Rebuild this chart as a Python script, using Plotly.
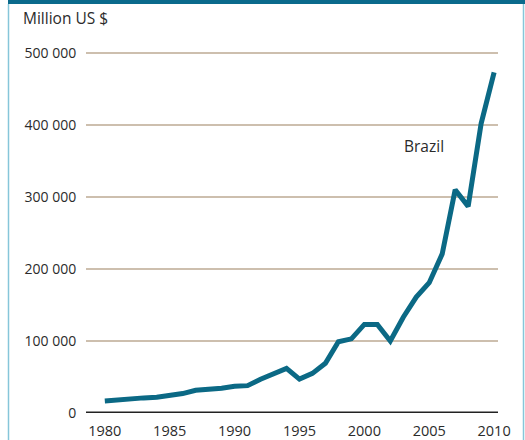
import plotly.graph_objects as go

years = list(range(1980, 2011))
values = [16700, 18500, 20000, 21000, 22000, 24500, 27000, 31500, 32500, 34500,
          37000, 38000, 47000, 55000, 62000, 47000, 55000, 69000, 99000, 103000,
          123000, 123000, 100000, 133000, 161000, 181000, 221000, 310000, 287000, 402000,
          473000]
y_ticks = [0, 100000, 200000, 300000, 400000, 500000]
y_labels = ["0", "100 000", "200 000", "300 000", "400 000", "500 000"]
x_ticks = [1980, 1985, 1990, 1995, 2000, 2005, 2010]
series_name = "Brazil"
y_title = "Million US $"

LINE = "#0b6985"
GRID = "#cdbfae"
TEXT = "#2b2b2b"
FONT = "Open Sans, Noto Sans, sans-serif"

W, H = 525, 440
ML, MR, MT, MB = 86, 27, 51, 27

fig = go.Figure()
fig.add_trace(go.Scatter(x=years, y=values, mode="lines",
                         line=dict(color=LINE, width=5, shape="linear"),
                         hoverinfo="skip", showlegend=False, cliponaxis=False))

pw = W - ML - MR
ph = H - MT - MB
def px2paper(px, py):
    return (px - ML) / pw, (H - MB - py) / ph

fig.add_annotation(x=2004.6, y=371000, text=series_name, showarrow=False,
                   font=dict(family=FONT, size=15.5, color=TEXT), xref="x", yref="y")
tx, ty = px2paper(21, 18)
fig.add_annotation(x=tx, y=ty, xref="paper", yref="paper", text=y_title,
                   xanchor="left", yanchor="middle",
                   showarrow=False, font=dict(family=FONT, size=15.5, color=TEXT))

# zero baseline
fig.add_shape(type="line", xref="paper", yref="y", x0=0, x1=1, y0=0, y1=0,
              line=dict(color="#222222", width=3))

# top bar
x0, y0 = px2paper(8, 0)
x1, y1 = px2paper(W, 4)
fig.add_shape(type="rect", xref="paper", yref="paper", x0=x0, x1=x1, y0=y1, y1=y0,
              fillcolor="#0a6a8c", line=dict(width=0), layer="above")
# left and right light blue borders
lx, _ = px2paper(8.5, 0)
rx, _ = px2paper(523.5, 0)
_, ybot = px2paper(0, H)
_, ytop = px2paper(0, 4)
for xx in (lx, rx):
    fig.add_shape(type="line", xref="paper", yref="paper", x0=xx, x1=xx, y0=ybot, y1=ytop,
                  line=dict(color="#86c6d9", width=1.5), layer="above")

fig.update_layout(
    width=W, height=H,
    margin=dict(l=ML, r=MR, t=MT, b=MB, autoexpand=False),
    paper_bgcolor="white", plot_bgcolor="white",
    hovermode=False,
    font=dict(family=FONT, size=14, color=TEXT),
    xaxis=dict(range=[1978.55, 2010.3], tickvals=x_ticks, showgrid=False,
               zeroline=False, showline=False, ticks="outside", ticklen=5,
               automargin=False, fixedrange=True,
               tickcolor="rgba(0,0,0,0)", tickfont=dict(size=14.5, color=TEXT)),
    yaxis=dict(range=[0, 502800], tickvals=y_ticks, ticktext=y_labels,
               showgrid=True, gridcolor=GRID, gridwidth=1.5, zeroline=False,
               showline=False, ticks="outside", ticklen=6,
               automargin=False, fixedrange=True,
               tickcolor="rgba(0,0,0,0)", tickfont=dict(size=14, color=TEXT)),
)

fig.write_html("out.html", config={"displayModeBar": False},
               post_script="document.body.style.margin='0';document.body.style.overflow='hidden';")
